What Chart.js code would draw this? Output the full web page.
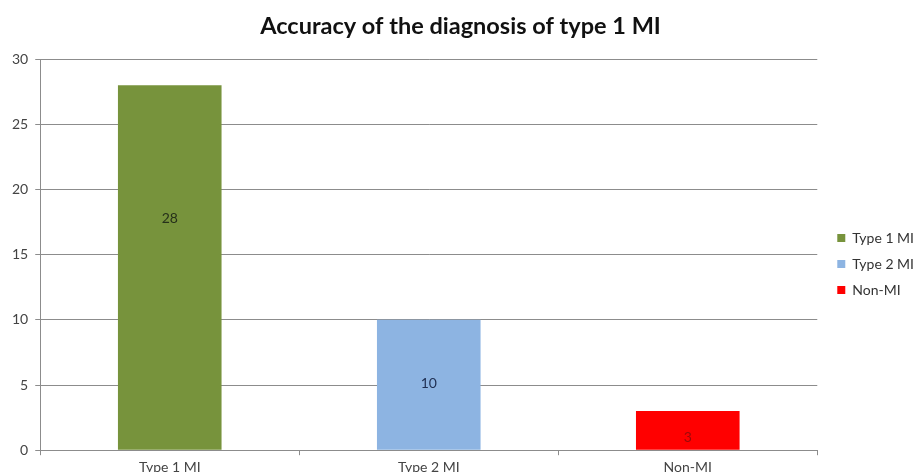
<!DOCTYPE html>
<html>
<head>
<meta charset="utf-8">
<script src="https://cdn.jsdelivr.net/npm/chart.js@4.4.1/dist/chart.umd.min.js"></script>
<style>
  html, body { margin: 0; padding: 0; background: #fff; overflow: hidden; }
  #wrap { width: 914px; height: 480px; }
</style>
</head>
<body>
<div id="wrap"><canvas id="chart"></canvas></div>
<script>
const categories = ["Type 1 MI", "Type 2 MI", "Non-MI"];
const counts = [28, 10, 3];
const barColors = ["#77933C", "#8DB4E2", "#FF0000"];
const labelColors = ["#26301a", "#1f2f52", "#9a0a0a"];
// where Excel put the value labels (in axis units)
const labelAt = [17.8, 5.1, 1.0];
const yTicks = [0, 5, 10, 15, 20, 25, 30];

const barLabels = {
        id: "barLabels",
        afterDatasetsDraw(chart) {
                const ctx = chart.ctx;
                const meta = chart.getDatasetMeta(0);
                const y = chart.scales.y;
                ctx.save();
                ctx.font = "14px Lato";
                ctx.textAlign = "center";
                ctx.textBaseline = "middle";
                meta.data.forEach((bar, i) => {
                        ctx.fillStyle = labelColors[i];
                        ctx.fillText(String(counts[i]), bar.x, y.getPixelForValue(labelAt[i]));
                });
                ctx.restore();
        }
};

// nudge the legend a bit lower and to the right, like the Excel one
const legendShift = {
        id: "legendShift",
        afterLayout(chart) {
                const lg = chart.legend;
                if (!lg) return;
                lg.top += 24; lg.bottom += 24;
                lg.left += 8; lg.right += 8;
        }
};

const data = {
        labels: categories,
        datasets: [{
                label: "Count",
                data: counts,
                backgroundColor: barColors,
                borderWidth: 0,
                categoryPercentage: 1,
                barPercentage: 0.4
        }]
};

const config = {
        type: "bar",
        data: data,
        plugins: [barLabels, legendShift],
        options: {
                responsive: true,
                maintainAspectRatio: false,
                animation: false,
                layout: { padding: { left: 5, right: -2, top: 0, bottom: 0 } },
                plugins: {
                        title: {
                                display: true,
                                text: "Accuracy of the diagnosis of type 1 MI",
                                color: "#111",
                                font: { family: "Lato", size: 23.5, weight: "bold" },
                                padding: { top: 12, bottom: 19 }
                        },
                        legend: {
                                position: "right",
                                labels: {
                                        font: { family: "Lato", size: 14 },
                                        color: "#333",
                                        boxWidth: 8,
                                        boxHeight: 8,
                                        padding: 12,
                                        generateLabels: () => categories.map((c, i) => ({
                                                text: c,
                                                fillStyle: barColors[i],
                                                strokeStyle: barColors[i],
                                                lineWidth: 0,
                                                fontColor: "#333",
                                                index: i
                                        }))
                                }
                        },
                        tooltip: { enabled: false }
                },
                scales: {
                        x: {
                                grid: {
                                        offset: true,
                                        drawOnChartArea: false,
                                        drawTicks: true,
                                        tickLength: 5,
                                        color: "#8c8c8c"
                                },
                                border: { color: "#8c8c8c", width: 1 },
                                ticks: {
                                        color: "#444",
                                        font: { family: "Lato", size: 14 },
                                        padding: 4
                                }
                        },
                        y: {
                                min: 0,
                                max: 30,
                                afterBuildTicks: (axis) => { axis.ticks = yTicks.map(v => ({ value: v })); },
                                grid: { color: "#8c8c8c", tickLength: 5 },
                                border: { color: "#8c8c8c", width: 1 },
                                ticks: {
                                        color: "#444",
                                        font: { family: "Lato", size: 14 },
                                        padding: 7
                                }
                        }
                }
        }
};

new Chart(document.getElementById("chart").getContext("2d"), config);
</script>
</body>
</html>
